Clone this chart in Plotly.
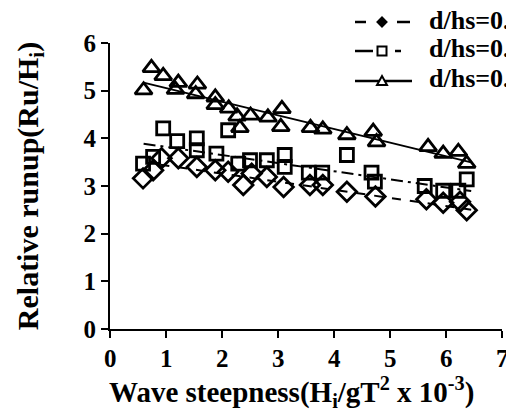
import numpy as np
import plotly.graph_objects as go

# Wave steepness (Hi/gT^2 x 10^-3) and relative runup (Ru/Hi) per depth ratio
steep_a = [0.59, 0.77, 0.92, 1.22, 1.55, 1.88, 2.11, 2.38, 2.53, 2.80, 3.10, 3.57, 3.80, 4.23, 4.74, 5.65, 5.95, 6.25, 6.37]
runup_a = [3.16, 3.33, 3.58, 3.58, 3.40, 3.33, 3.30, 3.02, 3.26, 3.19, 2.98, 3.02, 3.02, 2.88, 2.78, 2.72, 2.65, 2.67, 2.49]

steep_b = [0.59, 0.77, 0.95, 1.20, 1.55, 1.55, 1.90, 2.11, 2.29, 2.50, 2.80, 3.12, 3.12, 3.55, 3.79, 4.23, 4.67, 4.73, 5.62, 5.95, 6.22, 6.37]
runup_b = [3.47, 3.61, 4.21, 3.94, 4.00, 3.75, 3.68, 4.17, 3.47, 3.54, 3.54, 3.65, 3.40, 3.28, 3.28, 3.65, 3.28, 3.09, 3.00, 2.90, 2.90, 3.14]

steep_c = [0.60, 0.74, 0.95, 1.17, 1.22, 1.53, 1.56, 1.88, 1.88, 2.12, 2.27, 2.32, 2.51, 2.82, 3.07, 3.05, 3.58, 3.80, 4.23, 4.70, 4.76, 5.68, 5.95, 6.22, 6.37]
runup_c = [5.01, 5.48, 5.31, 5.02, 5.17, 4.93, 5.13, 4.86, 4.70, 4.63, 4.46, 4.22, 4.48, 4.44, 4.62, 4.24, 4.22, 4.19, 4.07, 4.14, 3.92, 3.82, 3.68, 3.72, 3.47]

# Linear trendlines: [intercept, slope] and x extent
fit_a = [3.60, -0.170]
fit_b = [3.99, -0.170]
fit_c = [5.34, -0.286]
fit_a_x = [0.90, 6.45]
fit_b_x = [0.60, 6.45]
fit_c_x = [0.60, 6.45]

names = ["d/hs=0.69", "d/hs=0.61", "d/hs=0.53"]
x_ticks = [0, 1, 2, 3, 4, 5, 6, 7]

FONT = "Liberation Serif, Times New Roman, serif"
ML, MR, MT, MB = 110, 4, 43, 89
W, H = 506, 418
PW, PH = W - ML - MR, H - MT - MB


def px_to_paper(px, py):
    return (px - ML) / PW, (H - MB - py) / PH


series = [
    (steep_a, runup_a, fit_a, fit_a_x, "diamond-open", 15, "dash"),
    (steep_b, runup_b, fit_b, fit_b_x, "square-open", 13, "12px,5px,3px,5px"),
    (steep_c, runup_c, fit_c, fit_c_x, "triangle-up-open", 15, "solid"),
]

fig = go.Figure()
for xs, ys, fit, fx, sym, size, dash in series:
    lx = np.array(fx)
    ly = fit[0] + fit[1] * lx
    fig.add_trace(go.Scatter(
        x=lx, y=ly, mode="lines", showlegend=False,
        line=dict(color="black", width=2, dash=dash), hoverinfo="skip"))
    fig.add_trace(go.Scatter(
        x=xs, y=ys, mode="markers", showlegend=False,
        marker=dict(symbol=sym, size=size, color="black",
                    line=dict(color="black", width=2.8))))

# Key in the top-right corner: line samples, marker glyphs and labels
key_rows_y = [22, 51, 81]
key_line_segments = [
    [(355, 366), (397, 410)],   # dashed
    [(355, 373), (395, 401)],   # long dash + short dash
    [(355, 412)],               # solid
]
key_shapes = [
    "M -4.5,0 L 0,-4.5 L 4.5,0 L 0,4.5 Z",
    "M -4.5,-4.5 L 4.5,-4.5 L 4.5,4.5 L -4.5,4.5 Z",
    "M -5,-4 L 0,5 L 5,-4 Z",
]
key_fill = ["black", "white", "white"]
for row, ky in enumerate(key_rows_y):
    for x0, x1 in key_line_segments[row]:
        a0, b0 = px_to_paper(x0, ky)
        a1, _ = px_to_paper(x1, ky)
        fig.add_shape(type="line", xref="paper", yref="paper",
                      x0=a0, x1=a1, y0=b0, y1=b0,
                      line=dict(color="black", width=2.5))
    ax, ay = px_to_paper(382, ky)
    fig.add_shape(type="path", xref="paper", yref="paper",
                  xsizemode="pixel", ysizemode="pixel",
                  xanchor=ax, yanchor=ay, path=key_shapes[row],
                  fillcolor=key_fill[row], line=dict(color="black", width=2))
    tx, ty = px_to_paper(427, ky - 2)
    fig.add_annotation(x=tx, y=ty, xref="paper", yref="paper",
                       xanchor="left", yanchor="middle", showarrow=False,
                       text=names[row],
                       font=dict(family=FONT, size=26, color="black", weight="bold"))

# x tick labels written as annotations so the last one shows at the page edge
_, y_lab = px_to_paper(0, 358)
for t in x_ticks:
    fig.add_annotation(x=t, y=y_lab, xref="x", yref="paper",
                       xanchor="center", yanchor="middle", showarrow=False,
                       text=str(t),
                       font=dict(family=FONT, size=25, color="black", weight="bold"))

# x-axis title, centred a little left of the plot centre
xt, yt = px_to_paper(291, 392)
fig.add_annotation(x=xt, y=yt, xref="paper", yref="paper",
                   xanchor="center", yanchor="middle", showarrow=False,
                   text="Wave steepness(H<sub>i</sub>/gT<sup>2</sup> x 10<sup>-3</sup>)",
                   font=dict(family=FONT, size=29, color="black", weight="bold"))

axis_common = dict(
    showline=True, linecolor="black", linewidth=2,
    ticks="outside", ticklen=7, tickwidth=2, tickcolor="black",
    showgrid=False, zeroline=False,
    tickfont=dict(family=FONT, size=25, color="black", weight="bold"),
)

fig.update_layout(
    width=W, height=H,
    margin=dict(l=ML, r=MR, t=MT, b=MB),
    plot_bgcolor="white", paper_bgcolor="white",
    font=dict(family=FONT, color="black", weight="bold"),
    showlegend=False,
    xaxis=dict(range=[0, 7], tickvals=x_ticks, showticklabels=False,
               **axis_common),
    yaxis=dict(range=[0, 6], dtick=1, tick0=0,
               title=dict(text="Relative runup(Ru/H<sub>i</sub>)",
                          font=dict(family=FONT, size=30, weight="bold"), standoff=36),
               **axis_common),
)

fig.write_html("out.html")
